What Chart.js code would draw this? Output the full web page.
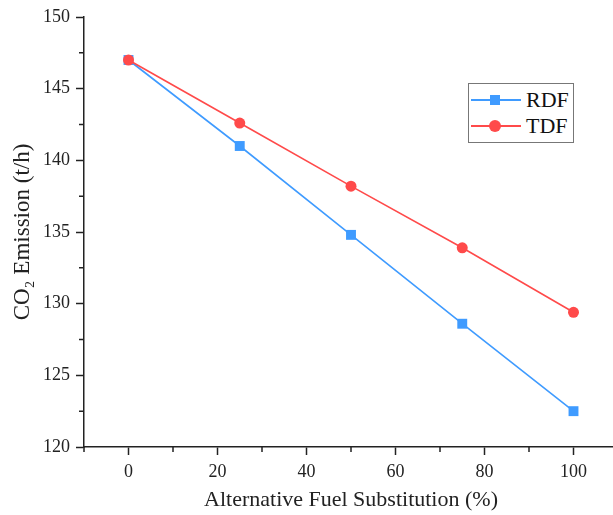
<!DOCTYPE html>
<html>
<head>
<meta charset="utf-8">
<script src="https://cdn.jsdelivr.net/npm/chart.js@4/dist/chart.umd.min.js"></script>
<style>
  html, body { margin: 0; padding: 0; background: #fff; overflow: hidden; }
  #wrap { position: relative; width: 613px; height: 515px; overflow: hidden; }
  #legend {
    position: absolute; left: 468px; top: 83px; width: 106px; height: 60px;
    border: 1px solid #777; background: #fff; box-sizing: border-box;
    font-family: "Liberation Serif", serif; font-size: 22px; color: #111;
  }
  .row { position: absolute; left: 0; height: 26px; width: 100%; }
  .ln { position: absolute; left: 2px; top: 12px; width: 50px; height: 2px; }
  .mk { position: absolute; }
  .lb { position: absolute; left: 57px; top: 0; line-height: 26px; }
</style>
</head>
<body>
<div id="wrap">
  <canvas id="myChart" width="625" height="515"></canvas>
  <div id="legend"></div>
</div>
<script>
var substitution = [0, 25, 50, 75, 100];
var rdfValues = [147, 141, 134.8, 128.6, 122.5];
var tdfValues = [147, 142.6, 138.2, 133.9, 129.4];
var seriesNames = ["RDF", "TDF"];
var seriesColors = ["#3f9bff", "#ff4a4a"];
var xTicks = [0, 20, 40, 60, 80, 100];
var yTicks = [120, 125, 130, 135, 140, 145, 150];

// legend (html so the box can sit anywhere)
var leg = document.getElementById("legend");
seriesNames.forEach(function (name, i) {
  var row = document.createElement("div");
  row.className = "row";
  row.style.top = (3 + i * 26) + "px";
  var mk = i == 0
    ? '<div class="mk" style="left:21px;top:8px;width:10px;height:10px;background:' + seriesColors[i] + '"></div>'
    : '<div class="mk" style="left:20px;top:7px;width:12px;height:12px;border-radius:6px;background:' + seriesColors[i] + '"></div>';
  row.innerHTML = '<div class="ln" style="background:' + seriesColors[i] + '"></div>' + mk +
    '<div class="lb">' + name + '</div>';
  leg.appendChild(row);
});

// minor ticks halfway between the labelled ones
var minorTicks = {
  id: "minorTicks",
  afterDraw: function (chart) {
    var ctx = chart.ctx, xs = chart.scales.x, ys = chart.scales.y;
    ctx.save();
    ctx.strokeStyle = "#222";
    ctx.lineWidth = 1.5;
    ctx.beginPath();
    for (var i = 0; i <= xTicks.length; i++) {
      var v = i < xTicks.length ? xTicks[i] - 10 : xTicks[xTicks.length - 1] + 10;
      if (v < xs.min || v > xs.max) continue;
      var px = xs.getPixelForValue(v);
      ctx.moveTo(px, xs.top); ctx.lineTo(px, xs.top + 5);
    }
    for (var j = 0; j < yTicks.length - 1; j++) {
      var py = ys.getPixelForValue(yTicks[j] + 2.5);
      ctx.moveTo(ys.right, py); ctx.lineTo(ys.right - 5, py);
    }
    ctx.stroke();
    ctx.restore();
  }
};

var font = { family: "'Liberation Serif', 'Times New Roman', serif", size: 18 };

new Chart("myChart", {
  type: "line",
  data: {
    datasets: [{
      label: seriesNames[0],
      data: substitution.map(function (x, i) { return { x: x, y: rdfValues[i] }; }),
      borderColor: seriesColors[0],
      backgroundColor: seriesColors[0],
      borderWidth: 1.6,
      pointStyle: "rect",
      pointRadius: 7,
      pointBorderWidth: 0,
      order: 2
    }, {
      label: seriesNames[1],
      data: substitution.map(function (x, i) { return { x: x, y: tdfValues[i] }; }),
      borderColor: seriesColors[1],
      backgroundColor: seriesColors[1],
      borderWidth: 1.6,
      pointStyle: "circle",
      pointRadius: 5.5,
      pointBorderWidth: 0,
      order: 1
    }]
  },
  options: {
    responsive: false,
    animation: false,
    layout: { padding: { top: 17, right: 0, left: 0, bottom: 0 } },
    plugins: { legend: { display: false }, tooltip: { enabled: false } },
    scales: {
      x: {
        type: "linear",
        min: -10,
        max: 110,
        afterBuildTicks: function (s) { s.ticks = xTicks.map(function (v) { return { value: v }; }); },
        afterFit: function (s) { s.height = 68; },
        grid: { drawOnChartArea: false, drawTicks: true, tickLength: 8, tickColor: "#222", tickWidth: 1.5 },
        border: { color: "#222", width: 1.5 },
        ticks: { color: "#222", font: font, padding: 6, maxRotation: 0 },
        title: { display: true, text: "Alternative Fuel Substitution (%)", color: "#222",
                 font: { family: font.family, size: 22 }, padding: { top: 2, bottom: 2 } }
      },
      y: {
        min: 120,
        max: 150,
        afterBuildTicks: function (s) { s.ticks = yTicks.map(function (v) { return { value: v }; }); },
        afterFit: function (s) { s.width = 84; },
        grid: { drawOnChartArea: false, drawTicks: true, tickLength: 8, tickColor: "#222", tickWidth: 1.5 },
        border: { color: "#222", width: 1.5 },
        ticks: { color: "#222", font: font, padding: 6 },
        title: { display: true, text: "CO\u2082 Emission (t/h)", color: "#222",
                 font: { family: font.family, size: 23 }, padding: { top: 9, bottom: 2 } }
      }
    }
  },
  plugins: [minorTicks]
});
</script>
</body>
</html>
